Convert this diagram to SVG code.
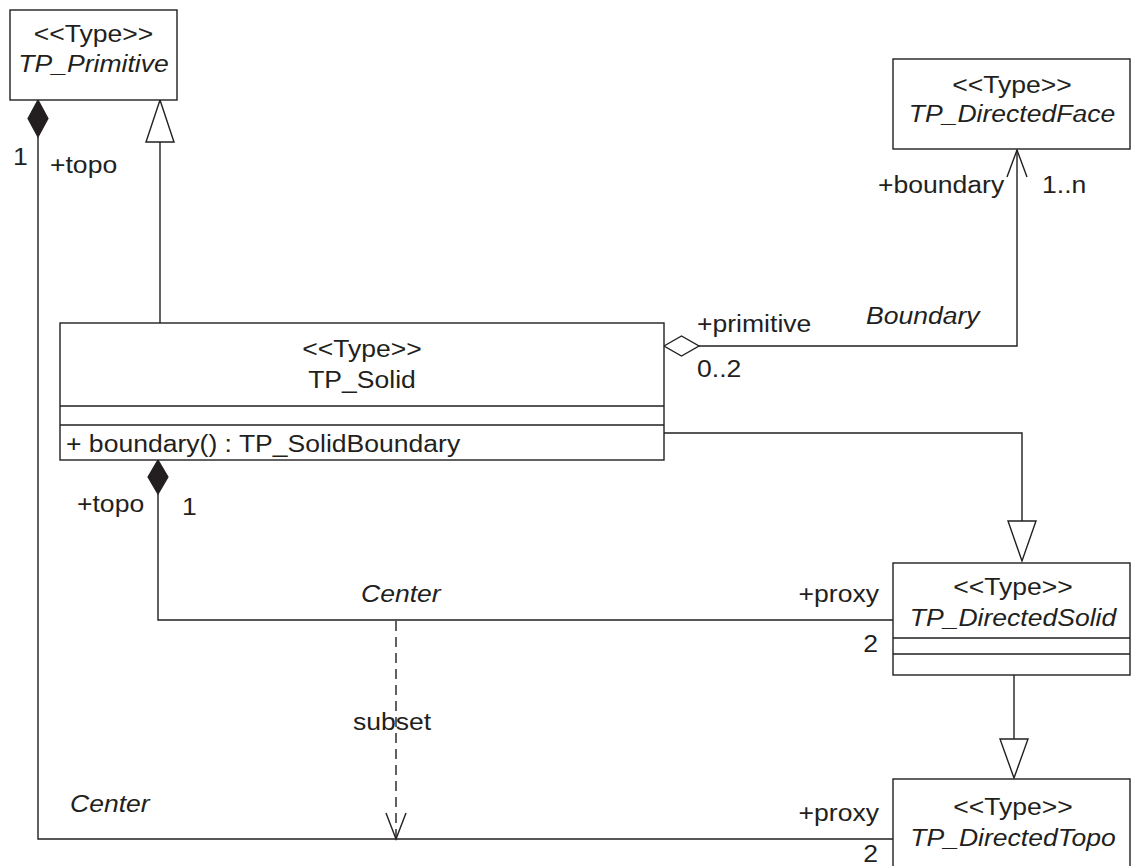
<svg xmlns="http://www.w3.org/2000/svg" width="1131" height="866" viewBox="0 0 1131 866">
<style>
.box{fill:#fff;stroke:#231f20;stroke-width:1.4}
.ln{fill:none;stroke:#231f20;stroke-width:1.4}
.dash{fill:none;stroke:#231f20;stroke-width:1.4;stroke-dasharray:10 6}
.hollow{fill:#fff;stroke:#231f20;stroke-width:1.4}
.solid{fill:#231f20;stroke:#231f20;stroke-width:1.2}
text{font-family:"Liberation Sans",Arial,sans-serif;font-size:23.5px;fill:#231f20}
.it{font-style:italic}
.c{text-anchor:middle}
.e{text-anchor:end}
</style>
<rect width="1131" height="866" fill="#fff"/>
<g id="connectors">
  <line class="ln" x1="160" y1="142" x2="160" y2="323"/>
  <polygon class="hollow" points="160,100 146,142 174,142"/>
  <polyline class="ln" points="38,137 38,839 893,839"/>
  <polygon class="solid" points="38,100 48,118.5 38,137 28,118.5"/>
  <polyline class="ln" points="699,346 1017,346 1017,150"/>
  <polygon class="hollow" points="664,346 681.5,336 699,346 681.5,356"/>
  <polyline class="ln" points="1007,177 1017,150 1027,177"/>
  <polyline class="ln" points="664,433 1022,433 1022,521"/>
  <polygon class="hollow" points="1022,561 1008,521 1036,521"/>
  <polyline class="ln" points="158,494 158,620 893,620"/>
  <polygon class="solid" points="158,460 168,477 158,494 148,477"/>
  <line class="ln" x1="1014" y1="675" x2="1014" y2="739"/>
  <polygon class="hollow" points="1014,778 1000,739 1028,739"/>
  <line class="dash" x1="396" y1="621" x2="396" y2="838"/>
  <polyline class="ln" points="386,813 396,839 406,813"/>
</g>
<g id="TP_Primitive">
  <rect class="box" x="10" y="10" width="167" height="90"/>
  <text class="c" transform="translate(93.5,42) scale(1.13,1)">&lt;&lt;Type&gt;&gt;</text>
  <text class="c it" transform="translate(93.5,72) scale(1.13,1)">TP_Primitive</text>
</g>
<g id="TP_DirectedFace">
  <rect class="box" x="893" y="59" width="237" height="90"/>
  <text class="c" transform="translate(1012,93) scale(1.13,1)">&lt;&lt;Type&gt;&gt;</text>
  <text class="c it" transform="translate(1012,122) scale(1.13,1)">TP_DirectedFace</text>
</g>
<g id="TP_Solid">
  <rect class="box" x="60" y="323" width="604" height="137"/>
  <line class="ln" x1="60" y1="406" x2="664" y2="406"/>
  <line class="ln" x1="60" y1="425" x2="664" y2="425"/>
  <text class="c" transform="translate(362,357) scale(1.13,1)">&lt;&lt;Type&gt;&gt;</text>
  <text class="c" transform="translate(362,388) scale(1.13,1)">TP_Solid</text>
  <text transform="translate(66,452) scale(1.13,1)">+ boundary() : TP_SolidBoundary</text>
</g>
<g id="TP_DirectedSolid">
  <rect class="box" x="893" y="563" width="237" height="112"/>
  <line class="ln" x1="893" y1="638" x2="1130" y2="638"/>
  <line class="ln" x1="893" y1="654" x2="1130" y2="654"/>
  <text class="c" transform="translate(1013,595) scale(1.13,1)">&lt;&lt;Type&gt;&gt;</text>
  <text class="c it" transform="translate(1013,626) scale(1.13,1)">TP_DirectedSolid</text>
</g>
<g id="TP_DirectedTopo">
  <rect class="box" x="893" y="779" width="237" height="100"/>
  <text class="c" transform="translate(1013,815) scale(1.13,1)">&lt;&lt;Type&gt;&gt;</text>
  <text class="c it" transform="translate(1013,846) scale(1.13,1)">TP_DirectedTopo</text>
</g>
<g id="labels">
  <text transform="translate(13,165) scale(1.13,1)">1</text>
  <text transform="translate(50,173) scale(1.13,1)">+topo</text>
  <text transform="translate(878,193) scale(1.13,1)">+boundary</text>
  <text transform="translate(1042,193) scale(1.13,1)">1..n</text>
  <text transform="translate(697,332) scale(1.13,1)">+primitive</text>
  <text class="it" transform="translate(866,324) scale(1.13,1)">Boundary</text>
  <text transform="translate(697,377) scale(1.13,1)">0..2</text>
  <text transform="translate(77,512) scale(1.13,1)">+topo</text>
  <text transform="translate(182,515) scale(1.13,1)">1</text>
  <text class="it" transform="translate(361,602) scale(1.13,1)">Center</text>
  <text class="e" transform="translate(879,602) scale(1.13,1)">+proxy</text>
  <text class="e" transform="translate(878,652) scale(1.13,1)">2</text>
  <text transform="translate(353,730) scale(1.13,1)">subset</text>
  <text class="it" transform="translate(70,812) scale(1.13,1)">Center</text>
  <text class="e" transform="translate(879,821) scale(1.13,1)">+proxy</text>
  <text class="e" transform="translate(878,862) scale(1.13,1)">2</text>
</g>
</svg>
